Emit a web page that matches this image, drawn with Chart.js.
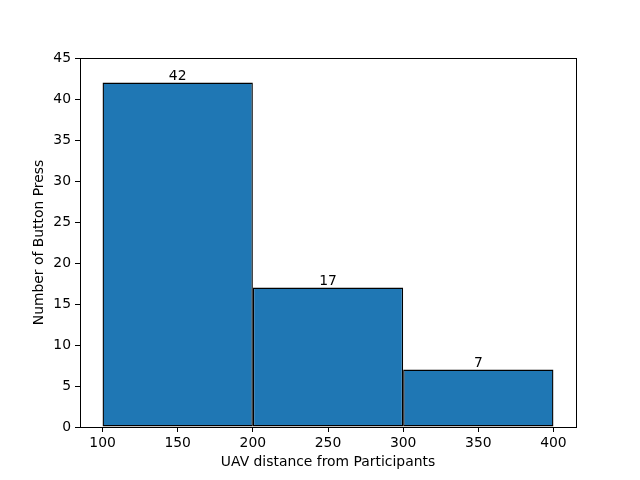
<!DOCTYPE html>
<html>
<head>
<meta charset="utf-8">
<script src="https://cdn.jsdelivr.net/npm/chart.js@4"></script>
<style>
  html, body { margin: 0; padding: 0; background: #fff; }
  #wrap { width: 640px; height: 480px; }
</style>
</head>
<body>
<div id="wrap"><canvas id="histChart" width="640" height="480"></canvas></div>
<script>
// histogram bins (centres) and counts
const binCenters = [150, 250, 350];
const binCounts = [42, 17, 7];
const xTicks = [100, 150, 200, 250, 300, 350, 400];
const yTicks = [0, 5, 10, 15, 20, 25, 30, 35, 40, 45];

const font = { family: 'DejaVu Sans', size: 13.9 };

// counts written above each bar
const barLabels = {
    id: 'barLabels',
    afterDatasetsDraw(chart) {
        const ctx = chart.ctx;
        const meta = chart.getDatasetMeta(0);
        ctx.save();
        ctx.fillStyle = '#000';
        ctx.font = '13.9px "DejaVu Sans"';
        ctx.textAlign = 'center';
        ctx.textBaseline = 'bottom';
        meta.data.forEach((bar, i) => {
            ctx.fillText(String(binCounts[i]), bar.x, bar.y + 1);
        });
        ctx.restore();
    }
};

// box round the plot area (top and right spines)
const frame = {
    id: 'frame',
    afterDraw(chart) {
        const a = chart.chartArea;
        const ctx = chart.ctx;
        ctx.save();
        ctx.strokeStyle = '#000';
        ctx.lineWidth = 1;
        ctx.strokeRect(Math.round(a.left) + 0.5, Math.round(a.top) + 0.5,
            Math.round(a.right - a.left), Math.round(a.bottom - a.top));
        ctx.restore();
    }
};

new Chart(document.getElementById('histChart').getContext('2d'), {
    type: 'bar',
    data: {
        datasets: [{
            data: binCenters.map((x, i) => ({ x: x, y: binCounts[i] })),
            backgroundColor: '#1f77b4',
            borderColor: '#000',
            borderWidth: 1.4,
            borderSkipped: false,
            // the sample size is taken from the 50-wide tick spacing, bins are 100 wide
            barPercentage: 2,
            categoryPercentage: 1
        }]
    },
    options: {
        responsive: false,
        animation: false,
        layout: { padding: { left: 0, right: 64, top: 58, bottom: 0 } },
        plugins: { legend: { display: false }, tooltip: { enabled: false } },
        scales: {
            x: {
                type: 'linear',
                min: 85,
                max: 415,
                offset: false,
                afterFit: s => { s.height = 53; },
                afterBuildTicks: s => { s.ticks = xTicks.map(v => ({ value: v })); },
                grid: { offset: false, drawOnChartArea: false, drawTicks: true, tickLength: 5, color: '#000' },
                border: { color: '#000' },
                ticks: { color: '#000', font: font, padding: 3, maxRotation: 0 },
                title: { display: true, text: 'UAV distance from Participants', color: '#000', font: font, padding: { top: 0, bottom: 9 } }
            },
            y: {
                min: 0,
                max: 45,
                afterFit: s => { s.width = 80; },
                afterBuildTicks: s => { s.ticks = yTicks.map(v => ({ value: v })); },
                grid: { drawOnChartArea: false, drawTicks: true, tickLength: 5, color: '#000' },
                border: { color: '#000' },
                ticks: { color: '#000', font: font, padding: 4 },
                title: { display: true, text: 'Number of Button Press', color: '#000', font: font, padding: { top: 31, bottom: 0 } }
            }
        }
    },
    plugins: [barLabels, frame]
});
</script>
</body>
</html>
